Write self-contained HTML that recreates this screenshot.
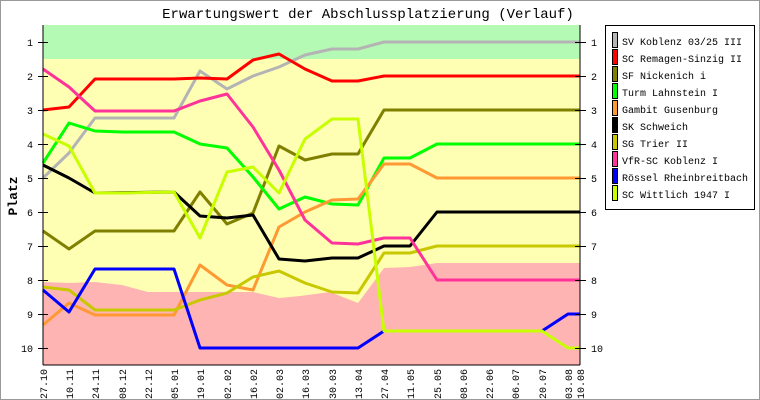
<!DOCTYPE html>
<html><head><meta charset="utf-8"><style>
body{margin:0;background:#fff}
svg{display:block}
text{font-family:"Liberation Mono","DejaVu Sans Mono",monospace;fill:#000}
</style></head><body>
<svg width="760" height="400" viewBox="0 0 760 400" xmlns="http://www.w3.org/2000/svg">
<rect x="0.5" y="0.5" width="759" height="399" fill="#fff" stroke="#999"/>
<text x="368" y="18" font-size="14" text-anchor="middle">Erwartungswert der Abschlussplatzierung (Verlauf)</text>
<rect x="43" y="25" width="537" height="340" fill="#ffffb4"/>
<rect x="43" y="25" width="537" height="34" fill="#b4fab4"/>
<polygon fill="#ffb4b4" points="43,282 69,283 95,282 122,285 148,292 174,292 200,292 227,292 253,292 279,298 300,296 330,292 358,303 384,268 410,267 437,263 580,263 580,365 43,365"/>
<g fill="none" stroke-width="3" stroke-linejoin="round">
<polyline stroke="#b4b4b4" points="43,178 69,153 95,118 174,118 200,71 227,89 253,76 279,67 305,55 332,49 358,49 384,42 580,42"/>
<polyline stroke="#ff0000" points="43,110 69,107 95,79 174,79 200,78 227,79 253,60 279,54 305,69 332,81 358,81 384,76 580,76"/>
<polyline stroke="#808000" points="43,231 69,249 95,231 174,231 200,192 227,224 253,213 279,146 305,160 332,154 358,154 384,110 580,110"/>
<polyline stroke="#00ff00" points="43,163 69,123 95,131 122,132 174,132 200,144 227,148 253,177 279,209 305,197 332,204 358,205 384,158 410,158 437,144 580,144"/>
<polyline stroke="#ff9933" points="43,325 69,303 95,315 174,315 200,265 227,285 253,290 279,227 305,212 332,200 358,199 384,164 410,164 437,178 580,178"/>
<polyline stroke="#000000" points="43,165 69,178 95,193 174,192 200,216 227,218 253,215 279,259 305,261 332,258 358,258 384,246 410,246 437,212 580,212"/>
<polyline stroke="#c8c800" points="43,287 69,290 95,310 174,310 200,300 227,293 253,277 279,271 305,283 332,292 358,293 384,253 410,253 437,246 580,246"/>
<polyline stroke="#ff3399" points="43,69 69,87 95,111 174,111 200,101 227,94 253,127 279,170 305,220 332,243 358,244 384,238 410,238 437,280 580,280"/>
<polyline stroke="#0000ff" points="43,290 69,312 95,269 174,269 200,348 358,348 384,331 542,331 568,314 580,314"/>
<polyline stroke="#c8ff00" points="43,134 69,146 95,193 122,193 174,192 200,238 227,172 253,167 279,193 305,139 332,119 358,119 384,331 542,331 568,348 580,348"/>
</g>
<g stroke="#000" stroke-width="1">
<line x1="43" y1="25" x2="43" y2="365"/>
<line x1="43" y1="365" x2="580" y2="365"/>
<line x1="580" y1="25" x2="580" y2="365"/>
<line x1="38" y1="42.5" x2="48" y2="42.5"/><line x1="38" y1="76.5" x2="48" y2="76.5"/><line x1="38" y1="110.5" x2="48" y2="110.5"/><line x1="38" y1="144.5" x2="48" y2="144.5"/><line x1="38" y1="178.5" x2="48" y2="178.5"/><line x1="38" y1="212.5" x2="48" y2="212.5"/><line x1="38" y1="246.5" x2="48" y2="246.5"/><line x1="38" y1="280.5" x2="48" y2="280.5"/><line x1="38" y1="314.5" x2="48" y2="314.5"/><line x1="38" y1="348.5" x2="48" y2="348.5"/>
<line x1="575" y1="42.5" x2="586" y2="42.5"/><line x1="575" y1="76.5" x2="586" y2="76.5"/><line x1="575" y1="110.5" x2="586" y2="110.5"/><line x1="575" y1="144.5" x2="586" y2="144.5"/><line x1="575" y1="178.5" x2="586" y2="178.5"/><line x1="575" y1="212.5" x2="586" y2="212.5"/><line x1="575" y1="246.5" x2="586" y2="246.5"/><line x1="575" y1="280.5" x2="586" y2="280.5"/><line x1="575" y1="314.5" x2="586" y2="314.5"/><line x1="575" y1="348.5" x2="586" y2="348.5"/>
</g>
<g font-size="10" text-anchor="end">
<text x="33" y="46">1</text><text x="33" y="80">2</text><text x="33" y="114">3</text><text x="33" y="148">4</text><text x="33" y="182">5</text><text x="33" y="216">6</text><text x="33" y="250">7</text><text x="33" y="284">8</text><text x="33" y="318">9</text><text x="33" y="352">10</text>
</g>
<g font-size="10">
<text x="591" y="46">1</text><text x="591" y="80">2</text><text x="591" y="114">3</text><text x="591" y="148">4</text><text x="591" y="182">5</text><text x="591" y="216">6</text><text x="591" y="250">7</text><text x="591" y="284">8</text><text x="591" y="318">9</text><text x="591" y="352">10</text>
</g>
<text transform="translate(17,196) rotate(-90)" font-size="13" font-weight="bold" text-anchor="middle">Platz</text>
<g font-size="10" text-anchor="end">
<text transform="translate(47,369) rotate(-90)">27.10</text>
<text transform="translate(73,369) rotate(-90)">10.11</text>
<text transform="translate(99,369) rotate(-90)">24.11</text>
<text transform="translate(126,369) rotate(-90)">08.12</text>
<text transform="translate(152,369) rotate(-90)">22.12</text>
<text transform="translate(178,369) rotate(-90)">05.01</text>
<text transform="translate(204,369) rotate(-90)">19.01</text>
<text transform="translate(231,369) rotate(-90)">02.02</text>
<text transform="translate(257,369) rotate(-90)">16.02</text>
<text transform="translate(283,369) rotate(-90)">02.03</text>
<text transform="translate(309,369) rotate(-90)">16.03</text>
<text transform="translate(336,369) rotate(-90)">30.03</text>
<text transform="translate(362,369) rotate(-90)">13.04</text>
<text transform="translate(388,369) rotate(-90)">27.04</text>
<text transform="translate(414,369) rotate(-90)">11.05</text>
<text transform="translate(441,369) rotate(-90)">25.05</text>
<text transform="translate(467,369) rotate(-90)">08.06</text>
<text transform="translate(493,369) rotate(-90)">22.06</text>
<text transform="translate(519,369) rotate(-90)">06.07</text>
<text transform="translate(546,369) rotate(-90)">20.07</text>
<text transform="translate(572,369) rotate(-90)">03.08</text>
<text transform="translate(584,369) rotate(-90)">10.08</text>
</g>
<rect x="605.5" y="25.5" width="149" height="184" fill="#fff" stroke="#000"/>
<g stroke="#000" stroke-width="1">
<rect x="612.5" y="32.5" width="5" height="15" fill="#b4b4b4"/>
<rect x="612.5" y="49.5" width="5" height="15" fill="#ff0000"/>
<rect x="612.5" y="66.5" width="5" height="15" fill="#808000"/>
<rect x="612.5" y="83.5" width="5" height="15" fill="#00ff00"/>
<rect x="612.5" y="100.5" width="5" height="15" fill="#ff9933"/>
<rect x="612.5" y="117.5" width="5" height="15" fill="#000000"/>
<rect x="612.5" y="134.5" width="5" height="15" fill="#c8c800"/>
<rect x="612.5" y="151.5" width="5" height="15" fill="#ff3399"/>
<rect x="612.5" y="168.5" width="5" height="15" fill="#0000ff"/>
<rect x="612.5" y="185.5" width="5" height="15" fill="#c8ff00"/>
</g>
<g font-size="10">
<text x="622" y="45">SV Koblenz 03/25 III</text>
<text x="622" y="62">SC Remagen-Sinzig II</text>
<text x="622" y="79">SF Nickenich i</text>
<text x="622" y="96">Turm Lahnstein I</text>
<text x="622" y="113">Gambit Gusenburg</text>
<text x="622" y="130">SK Schweich</text>
<text x="622" y="147">SG Trier II</text>
<text x="622" y="164">VfR-SC Koblenz I</text>
<text x="622" y="181">Rössel Rheinbreitbach</text>
<text x="622" y="198">SC Wittlich 1947 I</text>
</g>
</svg>
</body></html>
